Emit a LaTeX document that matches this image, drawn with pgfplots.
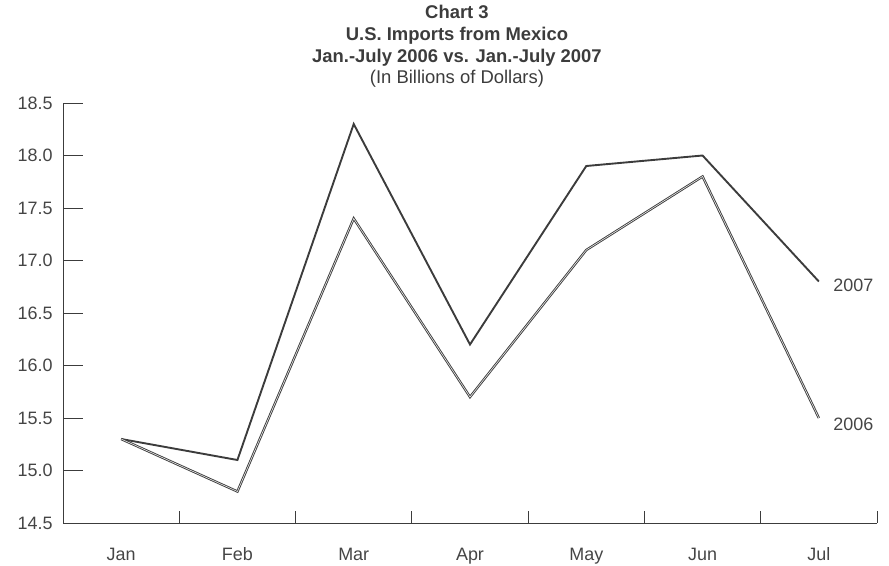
\documentclass[border=0pt]{standalone}
\usepackage{pgfplots}
\pgfplotsset{compat=1.18}
\usepackage{fontspec}
\setmainfont{Liberation Sans}
\definecolor{ink}{HTML}{3C3C3C}
\definecolor{txt}{HTML}{454545}
\begin{document}
\begin{tikzpicture}
\useasboundingbox (-63bp,-43bp) rectangle (826bp,523bp);
\begin{axis}[
  scale only axis,
  width=814bp, height=420bp,
  xmin=-0.5, xmax=6.5,
  ymin=14.5, ymax=18.5,
  axis lines=left,
  axis line style={-, draw=ink, line width=0.9pt},
  xtick={0,...,6},
  xticklabels={Jan,Feb,Mar,Apr,May,Jun,Jul},
  minor xtick={0.5,1.5,...,6.5},
  every major x tick/.append style={draw=none},
  ytick={14.5,15,...,18.5},
  tick align=inside,
  major tick length=20bp,
  minor tick length=12bp,
  tick style={draw=ink, line width=0.9pt},
  /pgf/number format/assume math mode=true,
  /pgf/number format/.cd, fixed, fixed zerofill, precision=1, /pgfplots/.cd,
  ticklabel style={font=\fontsize{18}{20}\selectfont, text=txt},
  xticklabel style={anchor=base, yshift=-37bp},
  yticklabel style={xshift=-7bp},
  clip=false,
]
\addplot[draw=ink, line width=1.9pt, line join=miter] coordinates {
  (0,15.3) (1,15.1) (2,18.3) (3,16.2) (4,17.9) (5,18.0) (6,16.8)
};
\addplot[draw=ink, line width=0.9pt, double=white!85!gray, double distance=0.6pt, line join=miter] coordinates {
  (0,15.3) (1,14.8) (2,17.4) (3,15.7) (4,17.1) (5,17.8) (6,15.5)
};
\node[anchor=west, xshift=11bp, yshift=-4bp, font=\fontsize{18}{20}\selectfont, text=txt] at (axis cs:6,16.8) {2007};
\node[anchor=west, xshift=11bp, yshift=-6bp, font=\fontsize{18}{20}\selectfont, text=txt] at (axis cs:6,15.5) {2006};
\node[anchor=base, font=\bfseries\fontsize{18.5}{20}\selectfont, text=ink] at ([yshift=84bp]rel axis cs:0.484,1) {Chart 3};
\node[anchor=base, font=\bfseries\fontsize{18.5}{20}\selectfont, text=ink] at ([yshift=62bp]rel axis cs:0.484,1) {U.S. Imports from Mexico};
\node[anchor=base, font=\bfseries\fontsize{18.5}{20}\selectfont, text=ink] at ([yshift=40.5bp]rel axis cs:0.484,1) {Jan.-July 2006 vs. Jan.-July 2007};
\node[anchor=base, font=\fontsize{18.5}{20}\selectfont, text=ink] at ([yshift=20bp]rel axis cs:0.484,1) {(In Billions of Dollars)};
\end{axis}
\end{tikzpicture}
\end{document}
